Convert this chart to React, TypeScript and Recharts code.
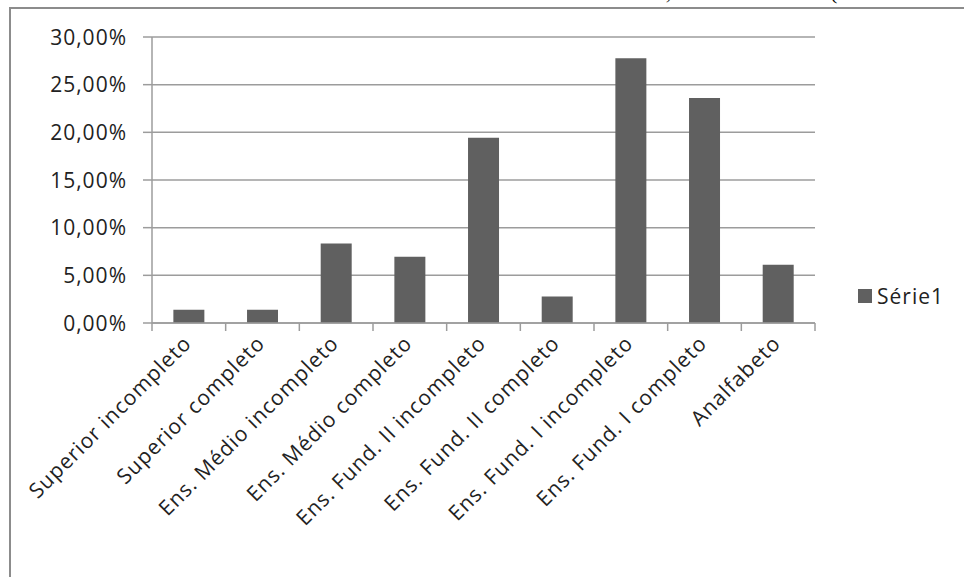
import React from 'react';
import { BarChart, Bar, XAxis, YAxis, CartesianGrid, Legend } from 'recharts';

const categories = [
  'Superior incompleto',
  'Superior completo',
  'Ens. Médio incompleto',
  'Ens. Médio completo',
  'Ens. Fund. II incompleto',
  'Ens. Fund. II completo',
  'Ens. Fund. I incompleto',
  'Ens. Fund. I completo',
  'Analfabeto',
];
const serie1 = [1.39, 1.39, 8.33, 6.94, 19.44, 2.78, 27.78, 23.61, 6.1];
const yTicks = [0, 5, 10, 15, 20, 25, 30];
const seriesName = 'Série1';
const titleText = 'Gráfico 5 – Nível de escolaridade dos entrevistados na Ilha do Combu, Estado do Pará (';

const data = categories.map((c, i) => ({ name: c, v: serie1[i] }));

const W = 964;
const H = 577;
const M = { top: 37, right: 149, bottom: 54, left: 82 };
const YW = 70;
const XH = 200;
const BAND = (W - M.left - YW - M.right) / categories.length;

const FONT = '"Open Sans", "Noto Sans", sans-serif';
const FS = 21;
const LS = 1;
const TEXT = '#222';
const LINE = '#9c9c9c';
const BARC = '#606060';

const fmt = (v: number) => v.toFixed(2).replace('.', ',') + '%';

const XTick = (props: any) => {
  const { x, y, payload, index, visibleTicksCount } = props;
  const half = payload && payload.offset ? payload.offset : BAND / 2;
  const px = x - 7;
  const py = y + 3;
  return (
    <g>
      <line x1={x - half} x2={x - half} y1={y - 8} y2={y} stroke={LINE} strokeWidth={1.5} />
      {index === visibleTicksCount - 1 && (
        <line x1={x + half} x2={x + half} y1={y - 8} y2={y} stroke={LINE} strokeWidth={1.5} />
      )}
      <text
        x={px}
        y={py}
        dy="0.72em"
        textAnchor="end"
        transform={`rotate(-45 ${px} ${py})`}
        fill={TEXT}
        fontSize={FS}
        letterSpacing={LS}
        fontFamily={FONT}
      >
        {payload.value}
      </text>
    </g>
  );
};

const YTick = (props: any) => {
  const { x, y, payload } = props;
  return (
    <text x={x} y={y} dy="0.36em" textAnchor="end" fill={TEXT} fontSize={FS} letterSpacing={LS} fontFamily={FONT}>
      {fmt(payload.value)}
    </text>
  );
};

const LegendContent = () => (
  <div style={{ display: 'flex', alignItems: 'center', fontFamily: FONT, fontSize: FS, letterSpacing: LS, color: TEXT, whiteSpace: 'nowrap' }}>
    <span style={{ display: 'inline-block', width: 14, height: 14, background: BARC, marginRight: 5 }} />
    <span>{seriesName}</span>
  </div>
);

export default function App() {
  return (
    <div style={{ position: 'absolute', left: 0, top: 0, width: W, height: H, overflow: 'hidden', background: '#fff' }}>
      <div
        style={{
          position: 'absolute',
          left: 4,
          top: -20,
          height: 24,
          width: 940,
          overflow: 'hidden',
          whiteSpace: 'nowrap',
          fontFamily: '"Liberation Serif", serif',
          fontSize: 22,
          wordSpacing: 4,
          lineHeight: '24px',
          color: '#000',
        }}
      >
        {titleText}
      </div>
      <div
        style={{
          position: 'absolute',
          left: 9,
          top: 7,
          width: W + 20,
          height: H + 20,
          border: '2px solid #8c8c8c',
          boxSizing: 'border-box',
        }}
      />
      <div style={{ position: 'absolute', left: 0, top: 0 }}>
        <BarChart width={W} height={H} data={data} margin={M} barCategoryGap="29%">
          <CartesianGrid vertical={false} stroke={LINE} strokeWidth={1.5} />
          <XAxis
            dataKey="name"
            interval={0}
            height={XH}
            tickLine={false}
            tickSize={8}
            tickMargin={0}
            axisLine={{ stroke: LINE, strokeWidth: 1.5 }}
            tick={<XTick />}
          />
          <YAxis
            width={YW}
            domain={[0, 30]}
            ticks={yTicks}
            interval={0}
            tickSize={9}
            tickMargin={16}
            axisLine={{ stroke: LINE, strokeWidth: 1.5 }}
            tickLine={{ stroke: LINE, strokeWidth: 1.5 }}
            tick={<YTick />}
          />
          <Legend
            layout="horizontal"
            verticalAlign="middle"
            align="center"
            content={<LegendContent />}
            wrapperStyle={{ position: 'absolute', left: 858, top: 282, width: 100, height: 28 }}
          />
          <Bar dataKey="v" name={seriesName} fill={BARC} isAnimationActive={false} />
        </BarChart>
      </div>
    </div>
  );
}
